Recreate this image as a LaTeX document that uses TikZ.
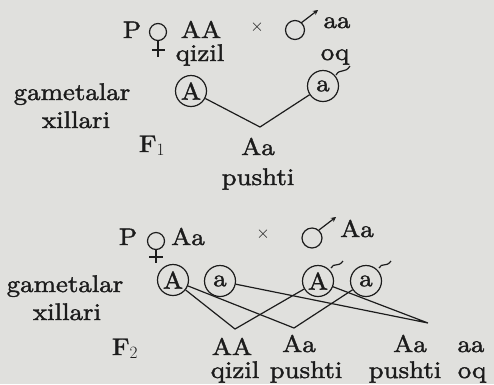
\documentclass[tikz,border=0pt]{standalone}
\usepackage{fontspec}
\setmainfont{lmroman10-regular.otf}[FakeStretch=1.12,FakeBold=1.6]
\usetikzlibrary{arrows.meta}
\definecolor{paper}{RGB}{224,224,221}
\definecolor{ink}{RGB}{28,28,28}

\begin{document}
\begin{tikzpicture}[x=1pt,y=-1pt,>={Stealth[length=5pt,width=5pt]},
  lbl/.style={font=\fontsize{24}{26}\selectfont,inner sep=0pt,anchor=base,text=ink},
  gam/.style={draw=ink,circle,line width=1.2pt,minimum size=31pt,inner sep=0pt,
    font=\fontsize{24}{26}\selectfont,text=ink},
  ln/.style={draw=ink,line width=1.2pt}]
\fill[paper] (0,0) rectangle (494,384);
\useasboundingbox (0,0) rectangle (494,384);

% first cross
\node[lbl] (p1) at (132,38) {P};
\draw[ln] (158,32) circle (8.5); \draw[ln] (158,40.5) -- (158,57); \draw[ln] (152,50) -- (165,50);
\node[lbl] (ma1) at (201,38) {AA};
\node[lbl] (qz1) at (200,61) {qizil};
\node[text=ink,font=\fontsize{18}{18}\selectfont] (x1) at (257,27) {$\times$};
\draw[ln] (295,30) circle (9.5); \draw[ln,->] (301,23) -- (318,10);
\node[lbl] (pa1) at (337,28) {aa};
\node[lbl] (oq1) at (335,60) {oq};
\node[lbl] (gm1) at (72,100) {gametalar};
\node[lbl] (xl1) at (76,128) {xillari};
\node[gam] (gA) at (191,91) {A};
\node[gam] (ga) at (323,86) {a};
\draw[ln] (336,75) .. controls (340,68) and (345,74) .. (350,66);
\coordinate (v1) at (260,127);
\draw[ln] (gA) -- (v1) -- (ga);
\node[lbl] (f1) at (152,152) {F$_1$};
\node[lbl] (c1) at (258,155) {Aa};
\node[lbl] (ps1) at (258,185) {pushti};

% second cross
\node[lbl] (p2) at (128,245) {P};
\draw[ln] (156,241) circle (8.5); \draw[ln] (156,249.5) -- (156,263); \draw[ln] (149,257) -- (163,257);
\node[lbl] (ma2) at (188,245) {Aa};
\node[text=ink,font=\fontsize{18}{18}\selectfont] (x2) at (263,234) {$\times$};
\draw[ln] (312,238) circle (10); \draw[ln,->] (319,230) -- (336,217);
\node[lbl] (pa2) at (357,237) {Aa};
\node[lbl] (gm2) at (65,292) {gametalar};
\node[lbl] (xl2) at (67,320) {xillari};
\node[gam] (fA) at (173,280) {A};
\node[gam] (fa) at (220,281) {a};
\node[gam] (mA) at (318,281) {A};
\node[gam] (ma) at (366,281) {a};
\draw[ln] (331,268) .. controls (334,262) and (338,268) .. (343,261);
\draw[ln] (379,268) .. controls (382,262) and (386,268) .. (391,261);
\coordinate (vAA) at (235,329);
\coordinate (vAa) at (294,328);
\coordinate (vaA) at (428,323);
\draw[ln] (fA) -- (vAA) -- (mA);
\draw[ln] (fA) -- (vAa) -- (ma);
\draw[ln] (fa) -- (vaA) -- (mA);
\node[lbl] (f2) at (125,355) {F$_2$};
\node[lbl] (c2) at (232,355) {AA};
\node[lbl] (qz2) at (235,378) {qizil};
\node[lbl] (c3) at (299,352) {Aa};
\node[lbl] (ps2) at (306,378) {pushti};
\node[lbl] (c4) at (410,352) {Aa};
\node[lbl] (ps3) at (405,378) {pushti};
\node[lbl] (c5) at (471,352) {aa};
\node[lbl] (oq2) at (472,378) {oq};
\end{tikzpicture}
\end{document}
